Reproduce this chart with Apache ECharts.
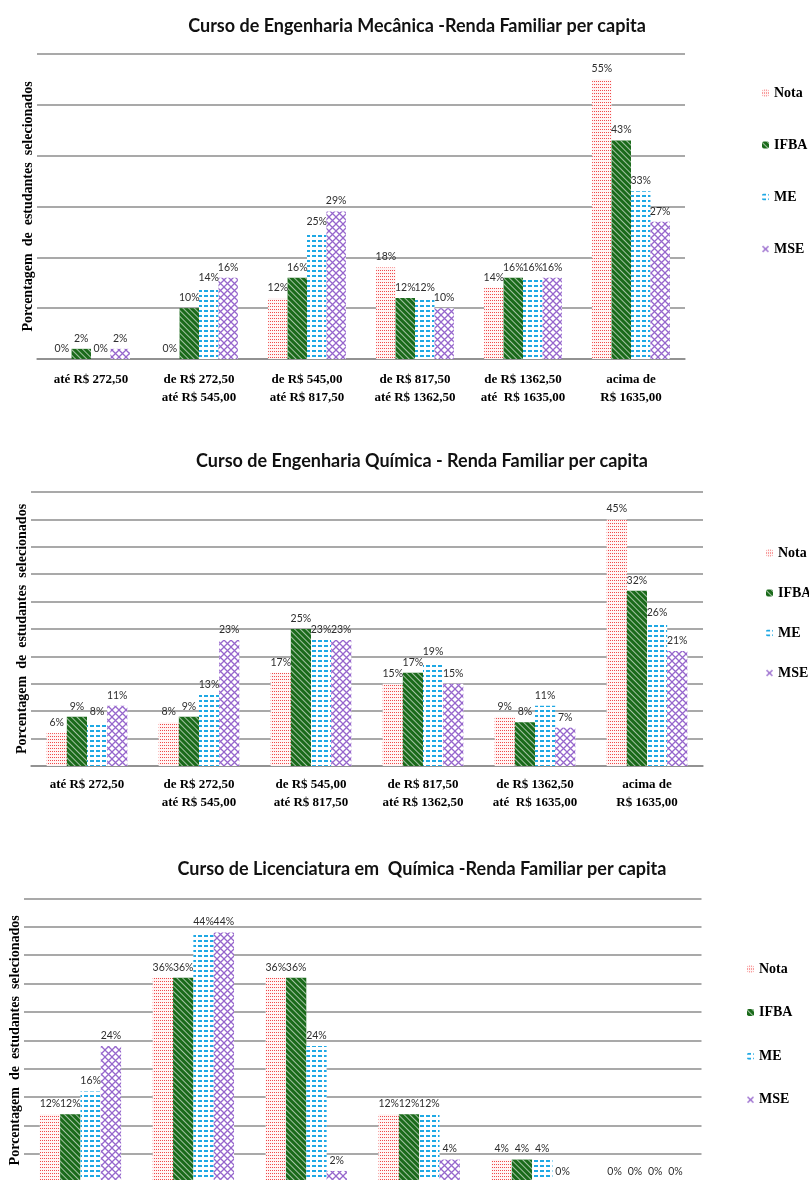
<!DOCTYPE html>
<html>
<head>
<meta charset="utf-8">
<script src="https://cdn.jsdelivr.net/npm/echarts@6/dist/echarts.min.js"></script>
<style>
  html, body { margin: 0; padding: 0; background: #fff; width: 809px; height: 1180px; overflow: hidden; }
  .chart { position: absolute; left: 0; width: 809px; }
</style>
</head>
<body>
<div id="c1" class="chart" style="top:0;height:420px"></div>
<div id="c2" class="chart" style="top:430px;height:410px"></div>
<div id="c3" class="chart" style="top:840px;height:400px"></div>
<script>
// Faixas de renda familiar per capita
const categories = [
  'até R$ 272,50',
  'de R$ 272,50\naté R$ 545,00',
  'de R$ 545,00\naté R$ 817,50',
  'de R$ 817,50\naté R$ 1362,50',
  'de R$ 1362,50\naté  R$ 1635,00',
  'acima de\nR$ 1635,00'
];
const seriesNames = ['Nota', 'IFBA', 'ME', 'MSE'];
const yAxisTitle = 'Porcentagem  de  estudantes  selecionados';

// Engenharia Mecânica (%)
const mecNota = [0, 0, 12, 18, 14, 55];
const mecIfba = [2, 10, 16, 12, 16, 43];
const mecMe   = [0, 14, 25, 12, 16, 33];
const mecMse  = [2, 16, 29, 10, 16, 27];

// Engenharia Química (%)
const quiNota = [6, 8, 17, 15, 9, 45];
const quiIfba = [9, 9, 25, 17, 8, 32];
const quiMe   = [8, 13, 23, 19, 11, 26];
const quiMse  = [11, 23, 23, 15, 7, 21];

// Licenciatura em Química (%)
const licNota = [12, 36, 36, 12, 4, 0];
const licIfba = [12, 36, 36, 12, 4, 0];
const licMe   = [16, 44, 24, 12, 4, 0];
const licMse  = [24, 44, 2, 4, 0, 0];

const titles = [
  'Curso de Engenharia Mecânica -Renda Familiar per capita',
  'Curso de Engenharia Química - Renda Familiar per capita',
  'Curso de Licenciatura em  Química -Renda Familiar per capita'
];

// Hachuras de cada série
const styles = {
  Nota: { color: '#fff4f4', decal: { symbol: 'rect', color: '#f04848', dashArrayX: [1, 1], dashArrayY: [1, 1.2], symbolSize: 1 } },
  IFBA: { color: '#1a6a1a', decal: { symbol: 'rect', color: 'rgba(255,255,255,0.6)', dashArrayX: [1, 0], dashArrayY: [1, 2.2], rotation: Math.PI / 4, symbolSize: 1 } },
  ME:   { color: '#ffffff', decal: { symbol: 'rect', color: '#1fa8e4', dashArrayX: [4, 2], dashArrayY: [1.2, 2.6], symbolSize: 1 } },
  MSE:  { color: '#ffffff', decal: { symbol: 'path://M0,0L1.3,0L10,8.7L10,10L8.7,10L0,1.3Z M8.7,0L10,0L10,1.3L1.3,10L0,10L0,8.7Z', color: '#9666cc', dashArrayX: [7, 0], dashArrayY: [7, 0], symbolSize: 1 } }
};

function buildOption(cfg) {
  const values = cfg.values;
  return {
    animation: false,
    title: {
      text: cfg.title,
      left: cfg.titleX,
      top: cfg.titleTop,
      textAlign: 'center',
      padding: 0,
      textStyle: { fontFamily: 'Lato', fontWeight: 'bold', fontSize: 18, color: '#111' }
    },
    legend: {
      orient: 'vertical',
      left: cfg.legendLeft,
      top: cfg.legendTop,
      itemGap: cfg.legendGap,
      itemWidth: 7,
      itemHeight: 7,
      padding: 0,
      data: seriesNames,
      textStyle: { fontFamily: 'Liberation Serif', fontWeight: 'bold', fontSize: 14, color: '#000', lineHeight: 16 }
    },
    grid: cfg.grid,
    xAxis: {
      type: 'category',
      data: categories,
      axisLine: { lineStyle: { color: '#8a8a8a', width: 1.5 } },
      axisTick: { length: 5, lineStyle: { color: '#8a8a8a', width: 1.2 } },
      axisLabel: {
        interval: 0,
        margin: cfg.labelMargin,
        fontFamily: 'Liberation Serif',
        fontWeight: 'bold',
        fontSize: 13,
        lineHeight: 18,
        color: '#000'
      }
    },
    yAxis: {
      type: 'value',
      min: 0,
      max: cfg.max,
      interval: cfg.interval,
      name: yAxisTitle,
      nameLocation: 'middle',
      nameGap: 2,
      nameTextStyle: { fontFamily: 'Liberation Serif', fontWeight: 'bold', fontSize: 14, color: '#000' },
      axisLabel: { show: false },
      axisLine: { show: false },
      axisTick: { show: false },
      splitLine: { lineStyle: { color: '#8c8c8c', width: 1.5 } }
    },
    series: seriesNames.map((name, i) => ({
      name: name,
      type: 'bar',
      data: values[i],
      barGap: '0%',
      barCategoryGap: '28%',
      itemStyle: styles[name],
      label: {
        show: true,
        position: 'top',
        distance: 5,
        formatter: '{c}%',
        fontFamily: 'Lato',
        fontSize: 10.5,
        color: '#2e2e2e'
      }
    }))
  };
}

const configs = [
  {
    el: 'c1', title: titles[0], titleX: 417, titleTop: 17,
    legendLeft: 762, legendTop: 85, legendGap: 36,
    grid: { left: 37, top: 54, width: 648, height: 305 },
    labelMargin: 12, max: 60, interval: 10,
    values: [mecNota, mecIfba, mecMe, mecMse]
  },
  {
    el: 'c2', title: titles[1], titleX: 422, titleTop: 22,
    legendLeft: 766, legendTop: 115, legendGap: 24,
    grid: { left: 31, top: 62, width: 672, height: 274 },
    labelMargin: 10, max: 50, interval: 5,
    values: [quiNota, quiIfba, quiMe, quiMse]
  },
  {
    el: 'c3', title: titles[2], titleX: 422, titleTop: 20,
    legendLeft: 747, legendTop: 121, legendGap: 27.6,
    grid: { left: 23.5, top: 58.3, width: 678, height: 284 },
    labelMargin: 10, max: 50, interval: 5,
    values: [licNota, licIfba, licMe, licMse]
  }
];

configs.forEach(cfg => {
  const chart = echarts.init(document.getElementById(cfg.el), null, { renderer: 'canvas' });
  chart.setOption(buildOption(cfg));
});
</script>
</body>
</html>
